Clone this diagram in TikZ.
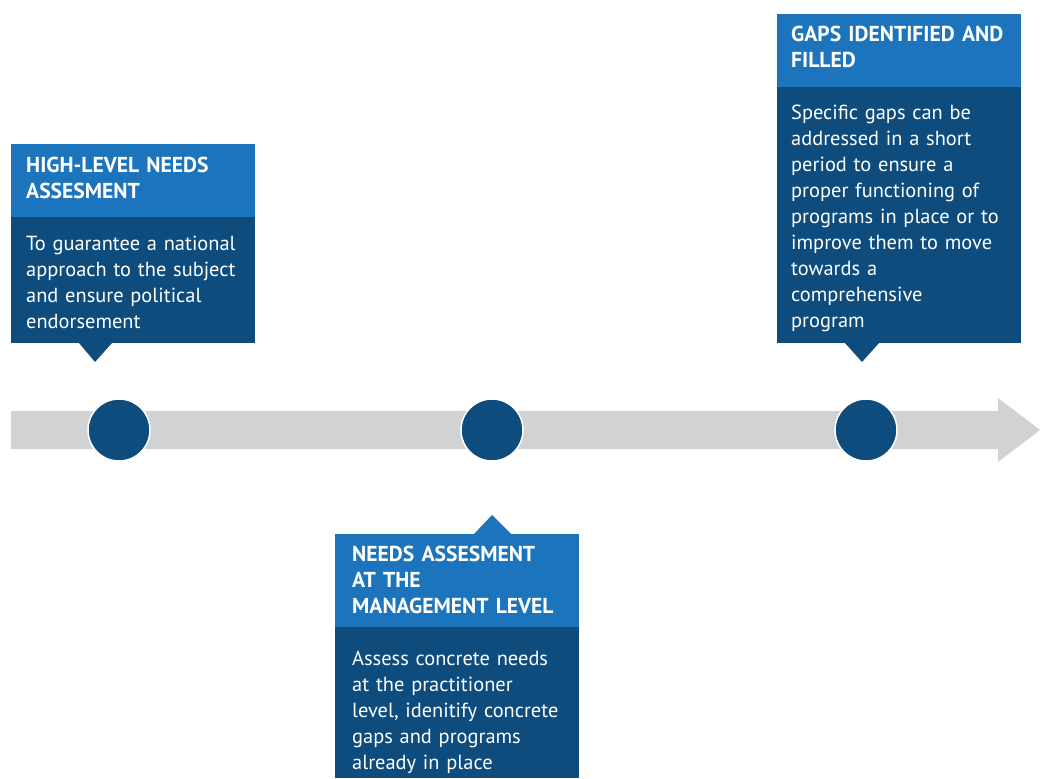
\documentclass[tikz,border=0pt]{standalone}
\usepackage{fontspec}
\setmainfont{PT Sans}
\definecolor{headblue}{RGB}{28,117,188}
\definecolor{bodyblue}{RGB}{14,76,125}
\definecolor{bargray}{RGB}{209,210,212}
\begin{document}
\begin{tikzpicture}[x=1pt,y=-1pt,
  panel/.style={anchor=north west, inner sep=0pt, minimum width=244pt, outer sep=0pt},
  head/.style={panel, fill=headblue},
  body/.style={panel, fill=bodyblue},
  dot/.style={circle, fill=bodyblue, draw=white, line width=1.5pt, minimum size=62pt, inner sep=0pt},
  htext/.style={anchor=base west, inner sep=0pt, text=white, align=left, text width=238pt, font=\fontsize{21.6}{26}\selectfont\bfseries},
  btext/.style={anchor=base west, inner sep=0pt, text=white, align=left, text width=238pt, font=\fontsize{20.4}{26}\selectfont}
]
\useasboundingbox (0,0) rectangle (1040,778);
% timeline arrow
\fill[bargray] (11,411) -- (998,411) -- (998,398) -- (1040,430) -- (998,462) -- (998,449) -- (11,449) -- cycle;
% dots
\node[dot] (c1) at (119,430) {};
\node[dot] (c2) at (492,430) {};
\node[dot] (c3) at (866,430) {};
% box 1
\node[head, minimum height=73pt] (h1) at (11,144) {};
\node[body, minimum height=126pt] (b1) at (11,217) {};
\fill[bodyblue] (79,343) -- (112,343) -- (95,362) -- cycle;
\node[htext] (t1) at (26,172) {HIGH-LEVEL NEEDS\\ASSESMENT};
\node[btext] (d1) at (26,250) {To guarantee a national\\approach to the subject\\and ensure political\\endorsement};
% box 3
\node[head, minimum height=73pt] (h3) at (777,14) {};
\node[body, minimum height=256pt] (b3) at (777,87) {};
\fill[bodyblue] (845,343) -- (879,343) -- (862,362) -- cycle;
\node[htext] (t3) at (791,42) {GAPS IDENTIFIED AND\\FILLED};
\node[btext] (d3) at (791,120) {Specific gaps can be\\addressed in a short\\period to ensure a\\proper functioning of\\programs in place or to\\improve them to move\\towards a\\comprehensive\\program};
% box 2
\fill[headblue] (474,534) -- (511,534) -- (492,515) -- cycle;
\node[head, minimum height=93pt] (h2) at (335,534) {};
\node[body, minimum height=151pt] (b2) at (335,627) {};
\node[htext] (t2) at (352,561) {NEEDS ASSESMENT\\AT THE\\MANAGEMENT LEVEL};
\node[btext] (d2) at (352,665) {Assess concrete needs\\at the practitioner\\level, idenitify concrete\\gaps and programs\\already in place};
\end{tikzpicture}
\end{document}
